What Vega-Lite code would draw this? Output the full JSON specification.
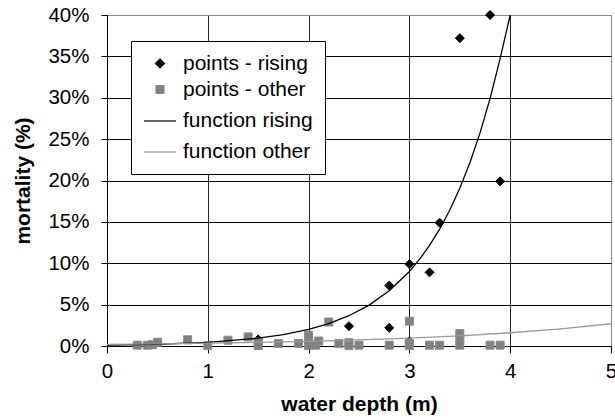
{
  "$schema": "https://vega.github.io/schema/vega-lite/v6.json",
  "width": 504,
  "height": 331,
  "autosize": {"type": "none"},
  "padding": {"left": 107, "top": 15, "right": 4, "bottom": 73},
  "background": "white",
  "config": {
    "font": "Liberation Sans",
    "view": {"stroke": "#888888", "strokeWidth": 1},
    "axis": {
      "labelFont": "Liberation Sans",
      "labelFontSize": 20.5,
      "labelColor": "black",
      "titleFont": "Liberation Sans",
      "titleFontSize": 21,
      "titleFontWeight": "bold",
      "titleColor": "black",
      "domainColor": "black",
      "domainWidth": 1,
      "tickColor": "black",
      "tickWidth": 1,
      "gridOpacity": 1,
      "gridWidth": 1
    },
    "legend": {
      "labelFont": "Liberation Sans",
      "labelFontSize": 21,
      "labelColor": "black",
      "strokeColor": "black",
      "fillColor": "white",
      "padding": 12,
      "rowPadding": 4,
      "labelOffset": 6,
      "symbolStrokeWidth": 1.2,
      "labelLimit": 300
    }
  },
  "datasets": {
    "points": [
      {"depth": 3.8, "mortality": 0.400, "series": "points - rising"},
      {"depth": 3.5, "mortality": 0.372, "series": "points - rising"},
      {"depth": 3.9, "mortality": 0.199, "series": "points - rising"},
      {"depth": 3.3, "mortality": 0.149, "series": "points - rising"},
      {"depth": 3.0, "mortality": 0.099, "series": "points - rising"},
      {"depth": 3.2, "mortality": 0.089, "series": "points - rising"},
      {"depth": 2.8, "mortality": 0.073, "series": "points - rising"},
      {"depth": 2.4, "mortality": 0.024, "series": "points - rising"},
      {"depth": 2.8, "mortality": 0.022, "series": "points - rising"},
      {"depth": 1.5, "mortality": 0.008, "series": "points - rising"},
      {"depth": 3.0, "mortality": 0.006, "series": "points - rising"},
      {"depth": 0.3, "mortality": 0.001, "series": "points - other"},
      {"depth": 0.4, "mortality": 0.001, "series": "points - other"},
      {"depth": 0.45, "mortality": 0.0015, "series": "points - other"},
      {"depth": 0.5, "mortality": 0.0045, "series": "points - other"},
      {"depth": 0.8, "mortality": 0.0075, "series": "points - other"},
      {"depth": 1.0, "mortality": 0.0005, "series": "points - other"},
      {"depth": 1.2, "mortality": 0.007, "series": "points - other"},
      {"depth": 1.4, "mortality": 0.011, "series": "points - other"},
      {"depth": 1.5, "mortality": 0.005, "series": "points - other"},
      {"depth": 1.5, "mortality": 0.0005, "series": "points - other"},
      {"depth": 1.7, "mortality": 0.003, "series": "points - other"},
      {"depth": 1.9, "mortality": 0.003, "series": "points - other"},
      {"depth": 2.0, "mortality": 0.013, "series": "points - other"},
      {"depth": 2.0, "mortality": 0.004, "series": "points - other"},
      {"depth": 2.0, "mortality": 0.0005, "series": "points - other"},
      {"depth": 2.07, "mortality": 0.001, "series": "points - other"},
      {"depth": 2.1, "mortality": 0.006, "series": "points - other"},
      {"depth": 2.2, "mortality": 0.029, "series": "points - other"},
      {"depth": 2.3, "mortality": 0.003, "series": "points - other"},
      {"depth": 2.4, "mortality": 0.004, "series": "points - other"},
      {"depth": 2.4, "mortality": 0.0005, "series": "points - other"},
      {"depth": 2.5, "mortality": 0.001, "series": "points - other"},
      {"depth": 2.8, "mortality": 0.001, "series": "points - other"},
      {"depth": 3.0, "mortality": 0.030, "series": "points - other"},
      {"depth": 3.0, "mortality": 0.003, "series": "points - other"},
      {"depth": 3.0, "mortality": 0.0005, "series": "points - other"},
      {"depth": 3.2, "mortality": 0.001, "series": "points - other"},
      {"depth": 3.3, "mortality": 0.001, "series": "points - other"},
      {"depth": 3.5, "mortality": 0.015, "series": "points - other"},
      {"depth": 3.5, "mortality": 0.009, "series": "points - other"},
      {"depth": 3.5, "mortality": 0.001, "series": "points - other"},
      {"depth": 3.8, "mortality": 0.001, "series": "points - other"},
      {"depth": 3.9, "mortality": 0.001, "series": "points - other"}
    ],
    "functions": [
      {"depth": 0.0, "mortality": 0.0010, "series": "function rising"},
      {"depth": 0.5, "mortality": 0.0021, "series": "function rising"},
      {"depth": 1.0, "mortality": 0.0045, "series": "function rising"},
      {"depth": 1.5, "mortality": 0.0095, "series": "function rising"},
      {"depth": 1.75, "mortality": 0.0138, "series": "function rising"},
      {"depth": 2.0, "mortality": 0.0201, "series": "function rising"},
      {"depth": 2.2, "mortality": 0.0271, "series": "function rising"},
      {"depth": 2.4, "mortality": 0.0366, "series": "function rising"},
      {"depth": 2.6, "mortality": 0.0494, "series": "function rising"},
      {"depth": 2.8, "mortality": 0.0667, "series": "function rising"},
      {"depth": 3.0, "mortality": 0.0900, "series": "function rising"},
      {"depth": 3.1, "mortality": 0.1046, "series": "function rising"},
      {"depth": 3.2, "mortality": 0.1215, "series": "function rising"},
      {"depth": 3.3, "mortality": 0.1412, "series": "function rising"},
      {"depth": 3.4, "mortality": 0.1640, "series": "function rising"},
      {"depth": 3.5, "mortality": 0.1906, "series": "function rising"},
      {"depth": 3.6, "mortality": 0.2214, "series": "function rising"},
      {"depth": 3.7, "mortality": 0.2572, "series": "function rising"},
      {"depth": 3.8, "mortality": 0.2989, "series": "function rising"},
      {"depth": 3.9, "mortality": 0.3472, "series": "function rising"},
      {"depth": 4.0, "mortality": 0.4000, "series": "function rising"},
      {"depth": 0.0, "mortality": 0.0020, "series": "function other"},
      {"depth": 0.5, "mortality": 0.0026, "series": "function other"},
      {"depth": 1.0, "mortality": 0.0034, "series": "function other"},
      {"depth": 1.5, "mortality": 0.0044, "series": "function other"},
      {"depth": 2.0, "mortality": 0.0057, "series": "function other"},
      {"depth": 2.5, "mortality": 0.0073, "series": "function other"},
      {"depth": 3.0, "mortality": 0.0095, "series": "function other"},
      {"depth": 3.5, "mortality": 0.0123, "series": "function other"},
      {"depth": 4.0, "mortality": 0.0160, "series": "function other"},
      {"depth": 4.5, "mortality": 0.0208, "series": "function other"},
      {"depth": 5.0, "mortality": 0.0269, "series": "function other"}
    ]
  },
  "encoding": {
    "x": {
      "field": "depth",
      "type": "quantitative",
      "scale": {"domain": [0, 5], "nice": false},
      "axis": {
        "title": "water depth (m)",
        "values": [0, 1, 2, 3, 4, 5],
        "format": "d",
        "tickSize": 7,
        "labelPadding": 8,
        "titlePadding": 12,
        "labelFlush": false,
        "gridColor": {"condition": {"test": "datum.value >= 5", "value": "#888888"}, "value": "#222222"}
      }
    },
    "y": {
      "field": "mortality",
      "type": "quantitative",
      "scale": {"domain": [0, 0.4], "nice": false},
      "axis": {
        "title": "mortality (%)",
        "values": [0, 0.05, 0.1, 0.15, 0.2, 0.25, 0.3, 0.35, 0.4],
        "format": ".0%",
        "tickSize": 6,
        "labelPadding": 12,
        "titlePadding": 14,
        "labelFlush": false,
        "gridColor": {"condition": {"test": "datum.value >= 0.399", "value": "#888888"}, "value": "black"}
      }
    }
  },
  "layer": [
    {
      "data": {"name": "points"},
      "mark": {"type": "point", "filled": true, "opacity": 1, "strokeWidth": 1},
      "encoding": {
        "fill": {
          "field": "series", "type": "nominal",
          "scale": {"domain": ["points - rising", "points - other", "function rising", "function other"], "range": ["black", "#808080", "black", "#999999"]},
          "legend": {"title": null, "orient": "none", "legendX": 24, "legendY": 26}
        },
        "stroke": {
          "field": "series", "type": "nominal",
          "scale": {"domain": ["points - rising", "points - other", "function rising", "function other"], "range": ["black", "#8c8c8c", "black", "#999999"]},
          "legend": {"title": null, "orient": "none", "legendX": 24, "legendY": 26}
        },
        "shape": {
          "field": "series", "type": "nominal",
          "scale": {"domain": ["points - rising", "points - other", "function rising", "function other"], "range": ["diamond", "square", "stroke", "stroke"]},
          "legend": {"title": null, "orient": "none", "legendX": 24, "legendY": 26}
        },
        "size": {
          "field": "series", "type": "nominal",
          "scale": {"type": "ordinal", "domain": ["points - rising", "points - other", "function rising", "function other"], "range": [81, 64, 1024, 1024]},
          "legend": {"title": null, "orient": "none", "legendX": 24, "legendY": 26}
        }
      }
    },
    {
      "data": {"name": "functions"},
      "mark": {"type": "line", "strokeWidth": 1.3},
      "encoding": {
        "detail": {"field": "series", "type": "nominal"},
        "stroke": {"field": "series", "type": "nominal", "legend": null}
      }
    }
  ]
}
